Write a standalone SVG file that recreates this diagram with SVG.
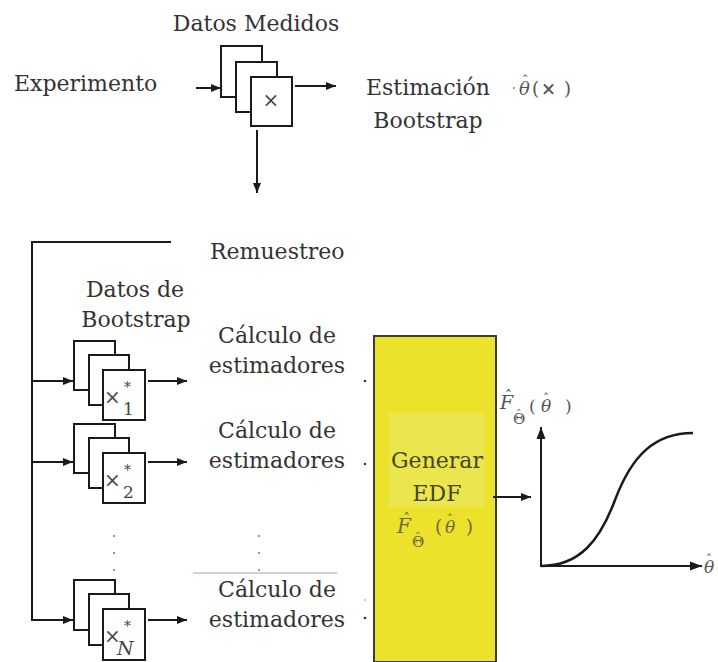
<svg xmlns="http://www.w3.org/2000/svg" width="718" height="662" viewBox="0 0 718 662">
  <defs>
    <marker id="arrow" viewBox="0 0 10 10" refX="10" refY="5" markerWidth="10" markerHeight="10" markerUnits="userSpaceOnUse" orient="auto">
      <path d="M0,1 L10,5 L0,9 Z" fill="#1a1a1a"/>
    </marker>
    <marker id="arrowBig" viewBox="0 0 12 10" refX="12" refY="5" markerWidth="12" markerHeight="10" markerUnits="userSpaceOnUse" orient="auto">
      <path d="M0,0.5 L12,5 L0,9.5 Z" fill="#1a1a1a"/>
    </marker>
  </defs>
  <style>
    .lbl { font-family: "DejaVu Serif", "Liberation Serif", serif; font-size: 22px; fill: #333; }
    .mid { text-anchor: middle; }
    .m { font-family: "DejaVu Serif", "Liberation Serif", serif; fill: #555; }
    .it { font-style: italic; }
    .page { fill: #ffffff; stroke: #1a1a1a; stroke-width: 2; }
    .wire { fill: none; stroke: #1a1a1a; stroke-width: 2; }
    .xv { font-family: "DejaVu Serif", "Liberation Serif", serif; fill: #444; }
    .dot { fill: #777; }
    .olive { fill: #6c6a3c; }
  </style>

  <rect width="718" height="662" fill="#ffffff"/>

  <!-- top: measured data -->
  <g id="measured-data">
    <text class="lbl mid" x="256" y="31">Datos Medidos</text>
    <rect class="page" x="221" y="46" width="41" height="51"/>
    <rect class="page" x="236" y="62" width="41" height="50"/>
    <rect class="page" x="251" y="77" width="41" height="49"/>
    <text class="xv mid" x="271" y="107" font-size="20">×</text>
  </g>
  <g id="experiment">
    <text class="lbl" x="14" y="91">Experimento</text>
  </g>
  <g id="bootstrap-estimate">
    <text class="lbl mid" x="428" y="95">Estimación</text>
    <text class="lbl mid" x="428" y="128">Bootstrap</text>
  </g>
  <g id="theta-x">
    <circle class="dot" cx="514" cy="88" r="1"/>
    <text class="m" font-size="18"><tspan class="it" x="519" y="95">θ</tspan><tspan x="522" y="85" font-size="13">ˆ</tspan><tspan x="532" y="95">(</tspan><tspan x="541" y="95" font-weight="bold">×</tspan><tspan x="564" y="95">)</tspan></text>
  </g>

  <!-- resampling branch -->
  <g id="resampling">
    <text class="lbl" x="210" y="259">Remuestreo</text>
  </g>
  <g id="bootstrap-data-label">
    <text class="lbl mid" x="135" y="297">Datos de</text>
    <text class="lbl mid" x="136" y="327">Bootstrap</text>
  </g>

  <g id="stack-1">
    <rect class="page" x="74" y="341" width="41" height="49"/>
    <rect class="page" x="89" y="355" width="40" height="50"/>
    <rect class="page" x="103" y="370" width="42" height="50"/>
    <text class="xv" font-size="20"><tspan x="104" y="404">×</tspan><tspan x="124" y="392" font-size="14">*</tspan><tspan x="123" y="415" font-size="17">1</tspan></text>
  </g>
  <g id="stack-2">
    <rect class="page" x="74" y="424" width="41" height="49"/>
    <rect class="page" x="89" y="438" width="40" height="50"/>
    <rect class="page" x="103" y="453" width="42" height="50"/>
    <text class="xv" font-size="20"><tspan x="104" y="487">×</tspan><tspan x="124" y="475" font-size="14">*</tspan><tspan x="123" y="498" font-size="17">2</tspan></text>
  </g>
  <g id="stack-n">
    <rect class="page" x="74" y="580" width="41" height="50"/>
    <rect class="page" x="89" y="594" width="40" height="51"/>
    <rect class="page" x="103" y="609" width="42" height="51"/>
    <text class="xv" font-size="20"><tspan x="104" y="643">×</tspan><tspan x="124" y="631" font-size="14">*</tspan><tspan class="it" x="117" y="655" font-size="19">N</tspan></text>
  </g>

  <g id="estimators-1">
    <text class="lbl mid" x="277" y="343">Cálculo de</text>
    <text class="lbl mid" x="277" y="373">estimadores</text>
  </g>
  <g id="estimators-2">
    <text class="lbl mid" x="277" y="438">Cálculo de</text>
    <text class="lbl mid" x="277" y="468">estimadores</text>
  </g>
  <g id="estimators-n">
    <text class="lbl mid" x="277" y="597">Cálculo de</text>
    <text class="lbl mid" x="277" y="627">estimadores</text>
  </g>

  <!-- ellipsis dots -->
  <g id="ellipsis">
    <circle class="dot" cx="114" cy="536" r="1"/>
    <circle class="dot" cx="114" cy="553" r="1"/>
    <circle class="dot" cx="114" cy="570" r="1"/>
    <circle class="dot" cx="259" cy="536" r="1"/>
    <circle class="dot" cx="259" cy="553" r="1"/>
    <circle class="dot" cx="259" cy="570" r="1"/>
    <line x1="193" y1="573" x2="337" y2="573" stroke="#cbbfb6" stroke-width="1.5"/>
    <circle cx="365" cy="381" r="1.3" fill="#333"/>
    <circle cx="365" cy="464" r="1.3" fill="#333"/>
    <circle cx="365" cy="600" r="0.8" fill="#888"/>
    <circle cx="365" cy="618" r="1.3" fill="#333"/>
  </g>

  <!-- EDF block -->
  <g id="generate-edf">
    <rect x="374" y="336" width="122" height="326" fill="#ece12b" stroke="#3a3a3a" stroke-width="2"/>
    <rect x="389" y="413" width="95" height="94" fill="#ebe54e"/>
    <text class="lbl mid" x="437" y="468" style="fill:#474720">Generar</text>
    <text class="lbl mid" x="437" y="501" style="fill:#474720">EDF</text>
    <text class="m olive" font-size="20"><tspan class="it" x="397" y="533">F</tspan><tspan x="403" y="524" font-size="14">ˆ</tspan><tspan x="412" y="547" font-size="15">Θ</tspan><tspan x="415" y="541" font-size="11">ˆ</tspan><tspan x="435" y="533" font-size="18">(</tspan><tspan class="it" x="445" y="533" font-size="17">θ</tspan><tspan x="447" y="524" font-size="12">ˆ</tspan><tspan x="466" y="533" font-size="18">)</tspan></text>
  </g>

  <!-- EDF plot -->
  <g id="edf-plot">
    <text class="m" font-size="19"><tspan class="it" x="500" y="409">F</tspan><tspan x="505" y="401" font-size="14">ˆ</tspan><tspan x="513" y="424" font-size="15">Θ</tspan><tspan x="516" y="418" font-size="11">ˆ</tspan><tspan x="529" y="412" font-size="17">(</tspan><tspan class="it" x="541" y="412" font-size="17">θ</tspan><tspan x="543" y="403" font-size="12">ˆ</tspan><tspan x="565" y="412" font-size="17">)</tspan></text>
    <text class="m" font-size="17"><tspan class="it" x="704" y="573">θ</tspan><tspan x="706" y="564" font-size="12">ˆ</tspan></text>
    <path d="M541,566 C580,566 600,540 615,500 C632,455 655,433 693,433" fill="none" stroke="#1a1a1a" stroke-width="2.5"/>
  </g>

  <!-- connectors -->
  <g id="connectors">
    <line class="wire" x1="196" y1="88" x2="221" y2="88" marker-end="url(#arrow)"/>
    <line class="wire" x1="295" y1="86" x2="336" y2="86" marker-end="url(#arrow)"/>
    <line class="wire" x1="257" y1="130" x2="257" y2="193" marker-end="url(#arrow)"/>
    <polyline class="wire" points="171,242 32,242 32,620"/>
    <line class="wire" x1="32" y1="381" x2="73" y2="381" marker-end="url(#arrow)"/>
    <line class="wire" x1="32" y1="462" x2="73" y2="462" marker-end="url(#arrow)"/>
    <line class="wire" x1="31" y1="620" x2="73" y2="620" marker-end="url(#arrow)"/>
    <line class="wire" x1="148" y1="381" x2="187" y2="381" marker-end="url(#arrow)"/>
    <line class="wire" x1="148" y1="462" x2="187" y2="462" marker-end="url(#arrow)"/>
    <line class="wire" x1="148" y1="620" x2="187" y2="620" marker-end="url(#arrow)"/>
    <line class="wire" x1="493" y1="497" x2="531" y2="497" marker-end="url(#arrow)"/>
    <line class="wire" x1="541" y1="567" x2="541" y2="427" stroke-width="2.5" marker-end="url(#arrowBig)"/>
    <line class="wire" x1="540" y1="566" x2="702" y2="566" stroke-width="2.5" marker-end="url(#arrowBig)"/>
  </g>
</svg>
